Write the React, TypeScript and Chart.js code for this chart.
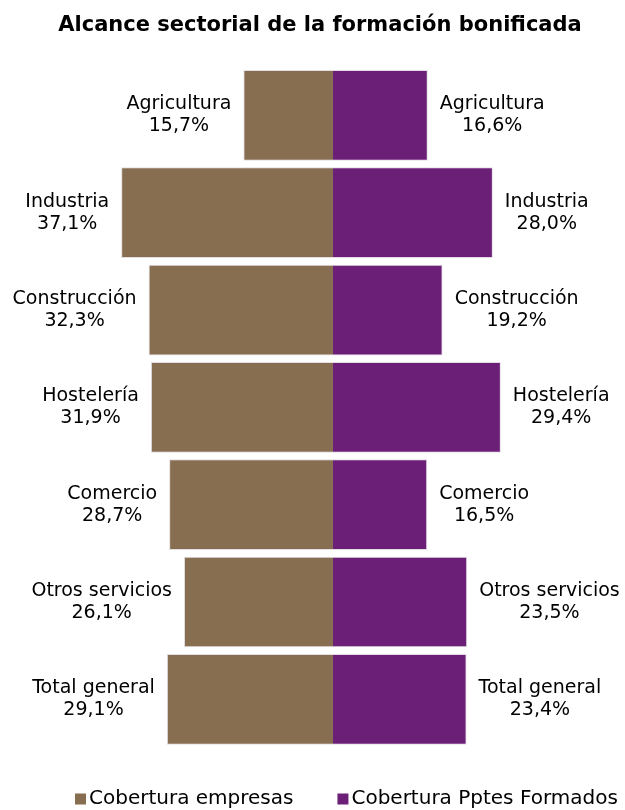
import React, { useEffect, useRef } from "react";
import { Chart, registerables } from "chart.js";

Chart.register(...registerables);

const categories = ["Agricultura", "Industria", "Construcción", "Hostelería", "Comercio", "Otros servicios", "Total general"];
const empresas = [15.7, 37.1, 32.3, 31.9, 28.7, 26.1, 29.1];
const formados = [16.6, 28.0, 19.2, 29.4, 16.5, 23.5, 23.4];
const seriesNames = ["Cobertura empresas", "Cobertura Pptes Formados"];
const seriesColors = ["#876E50", "#6B1F77"];
const title = "Alcance sectorial de la formación bonificada";

const FONT = "'DejaVu Sans', Verdana, sans-serif";
const fmt = (v: number) => v.toFixed(1).replace(".", ",") + "%";

const labelPlugin = {
  id: "sideLabels",
  afterDatasetsDraw(chart: any) {
    const ctx = chart.ctx;
    ctx.save();
    ctx.font = `19px ${FONT}`;
    ctx.fillStyle = "#000";
    ctx.textAlign = "center";
    ctx.textBaseline = "middle";
    chart.data.datasets.forEach((ds: any, di: number) => {
      const meta = chart.getDatasetMeta(di);
      meta.data.forEach((el: any, i: number) => {
        const name = categories[i];
        const val = fmt(Math.abs(ds.data[i]));
        const w = Math.max(ctx.measureText(name).width, ctx.measureText(val).width);
        const gap = 12;
        const x = di === 0 ? el.x - gap - w / 2 : el.x + gap + w / 2;
        ctx.fillText(name, x, el.y - 11);
        ctx.fillText(val, x, el.y + 11);
      });
    });
    ctx.restore();
  },
};

const titleLegendPlugin = {
  id: "titleLegend",
  afterDraw(chart: any) {
    const ctx = chart.ctx;
    ctx.save();
    // title
    ctx.font = `bold 21px ${FONT}`;
    ctx.fillStyle = "#000";
    ctx.textAlign = "center";
    ctx.textBaseline = "alphabetic";
    ctx.fillText(title, 320, 31);
    // legend
    ctx.font = `20px ${FONT}`;
    ctx.textBaseline = "middle";
    ctx.textAlign = "left";
    const box = 11;
    const gapBoxText = 3;
    const gapItems = 44;
    const widths = seriesNames.map((n) => box + gapBoxText + ctx.measureText(n).width);
    let x = 75;
    const y = 799;
    seriesNames.forEach((n, i) => {
      ctx.fillStyle = seriesColors[i];
      ctx.fillRect(x, y - box / 2, box, box);
      ctx.fillStyle = "#000";
      ctx.fillText(n, x + box + gapBoxText, y);
      x += widths[i] + gapItems;
    });
    ctx.restore();
  },
};

export default function App() {
  const ref = useRef<HTMLCanvasElement>(null);
  useEffect(() => {
    document.body.style.margin = "0";
    const chart = new Chart(ref.current!, {
      type: "bar",
      data: {
        labels: categories,
        datasets: [
          {
            label: seriesNames[0],
            data: empresas.map((v) => -v),
            backgroundColor: seriesColors[0],
            borderColor: "#e2dde2",
            borderWidth: 1,
            barPercentage: 0.932,
            categoryPercentage: 1,
          },
          {
            label: seriesNames[1],
            data: formados,
            backgroundColor: seriesColors[1],
            borderColor: "#e2dde2",
            borderWidth: 1,
            barPercentage: 0.932,
            categoryPercentage: 1,
          },
        ],
      },
      options: {
        indexAxis: "y",
        animation: false,
        responsive: false,
        maintainAspectRatio: false,
        layout: { padding: { top: 66.7, bottom: 62, left: 0, right: 0 } },
        scales: {
          x: { stacked: true, display: false, min: -58.32, max: 51.14 },
          y: { stacked: true, display: false },
        },
        plugins: {
          tooltip: { enabled: false },
          legend: { display: false },
          title: { display: false },
        },
      },
      plugins: [labelPlugin, titleLegendPlugin],
    });
    return () => chart.destroy();
  }, []);
  return <canvas ref={ref} width={625} height={810} style={{ display: "block" }} />;
}
